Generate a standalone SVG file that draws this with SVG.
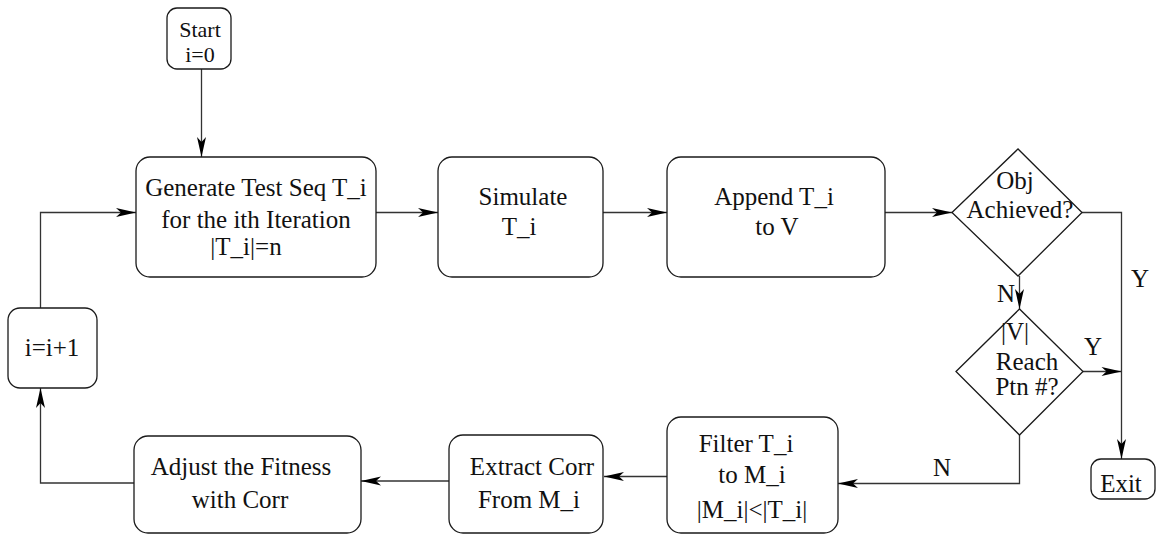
<svg xmlns="http://www.w3.org/2000/svg" width="1158" height="535" viewBox="0 0 1158 535">
  <style>
    .box { fill: #ffffff; stroke: #1a1a1a; stroke-width: 1.3; }
    .edge { fill: none; stroke: #333333; stroke-width: 1.3; }
    .arrow { marker-end: url(#head); }
    text { font-family: "Liberation Serif", "Times New Roman", serif; font-size: 25px; fill: #111111; text-anchor: middle; }
    .small { font-size: 22px; }
  </style>
  <defs>
    <marker id="head" markerUnits="userSpaceOnUse" markerWidth="22" markerHeight="12" viewBox="-21 -6 22 12" refX="0" refY="0" orient="auto">
      <path d="M0,0 L-20,-4.5 L-15,0 L-20,4.5 Z" fill="#000000"/>
    </marker>
  </defs>

  <!-- connectors -->
  <g id="connectors">
    <path class="edge arrow" d="M201.5,69 V157"/>
    <path class="edge arrow" d="M376,212.5 H438"/>
    <path class="edge arrow" d="M603,212.5 H667"/>
    <path class="edge arrow" d="M885,212.5 H952"/>
    <path class="edge arrow" d="M1082,212.5 H1121.5 V459"/>
    <path class="edge arrow" d="M1019.5,276 V309"/>
    <path class="edge arrow" d="M1083,371.5 H1121.5"/>
    <path class="edge arrow" d="M1019.5,435 V483.5 H838"/>
    <path class="edge arrow" d="M667,476.5 H604"/>
    <path class="edge arrow" d="M449,481 H361"/>
    <path class="edge arrow" d="M134,483 H40.5 V388"/>
    <path class="edge arrow" d="M40.5,308 V212.5 H136"/>
    <text x="1006" y="302">N</text>
    <text x="1140" y="287">Y</text>
    <text x="1093" y="355">Y</text>
    <text x="942" y="476">N</text>
  </g>

  <g id="start">
    <rect class="box" x="167" y="8" width="64" height="61" rx="10"/>
    <text class="small" x="200" y="37">Start</text>
    <text class="small" x="200" y="62">i=0</text>
  </g>

  <g id="generate">
    <rect class="box" x="136" y="157" width="240" height="120" rx="14"/>
    <text x="256" y="196">Generate Test Seq T_i</text>
    <text x="256" y="228">for the ith Iteration</text>
    <text x="246" y="255">|T_i|=n</text>
  </g>

  <g id="simulate">
    <rect class="box" x="438" y="157" width="165" height="120" rx="14"/>
    <text x="523" y="205">Simulate</text>
    <text x="519" y="235">T_i</text>
  </g>

  <g id="append">
    <rect class="box" x="667" y="157" width="218" height="120" rx="14"/>
    <text x="774" y="205">Append T_i</text>
    <text x="777" y="235">to V</text>
  </g>

  <g id="obj-achieved">
    <polygon class="box" points="952,212.5 1018,149 1082,212.5 1018,276"/>
    <text x="1015" y="189">Obj</text>
    <text x="1020" y="218">Achieved?</text>
  </g>

  <g id="reach-ptn">
    <polygon class="box" points="956,371.5 1019.5,309 1083,371.5 1019.5,435"/>
    <text x="1015" y="340">|V|</text>
    <text x="1027" y="370">Reach</text>
    <text x="1027" y="395">Ptn #?</text>
  </g>

  <g id="exit">
    <rect class="box" x="1091" y="459" width="64" height="40" rx="10"/>
    <text x="1121" y="492">Exit</text>
  </g>

  <g id="filter">
    <rect class="box" x="667" y="417" width="171" height="116" rx="14"/>
    <text x="746" y="452">Filter T_i</text>
    <text x="752" y="483">to M_i</text>
    <text x="752" y="518">|M_i|&lt;|T_i|</text>
  </g>

  <g id="extract">
    <rect class="box" x="449" y="435" width="154" height="98" rx="14"/>
    <text x="532" y="475">Extract Corr</text>
    <text x="529" y="508">From M_i</text>
  </g>

  <g id="adjust">
    <rect class="box" x="134" y="436" width="227" height="97" rx="14"/>
    <text x="241" y="475">Adjust the Fitness</text>
    <text x="240" y="508">with Corr</text>
  </g>

  <g id="increment">
    <rect class="box" x="8" y="308" width="89" height="80" rx="12"/>
    <text x="52" y="356">i=i+1</text>
  </g>
</svg>
